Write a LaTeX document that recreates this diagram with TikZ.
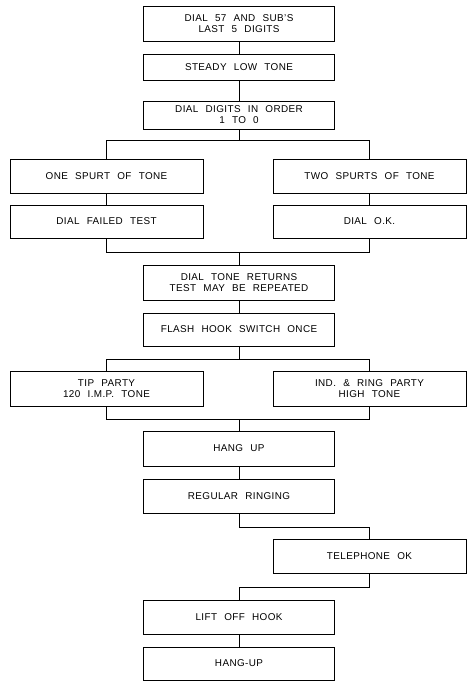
\documentclass[tikz,border=0pt]{standalone}
\usepackage{fontspec}
\setmainfont{Liberation Sans}[LetterSpace=4,WordSpace=2.3]
\begin{document}
\begin{tikzpicture}[x=1pt,y=-1pt,
  every node/.style={font=\fontsize{9.9}{11}\selectfont},
  box/.style={draw, line width=0.9pt, rectangle, align=center, inner sep=0pt, minimum width=#1},
  box/.default=191,
  conn/.style={line width=0.9pt}]
\useasboundingbox (0,0) rectangle (467,681);
% centre column
\node[box, minimum height=35] (b1) at (239,23.5) {DIAL 57 AND SUB'S\\LAST 5 DIGITS};
\node[box, minimum height=26] (b2) at (239,67) {STEADY LOW TONE};
\node[box, minimum height=28] (b3) at (239,115) {DIAL DIGITS IN ORDER\\1 TO 0};
% branches 1
\node[box=193, minimum height=34] (l1) at (106.5,176) {ONE SPURT OF TONE};
\node[box=193, minimum height=34] (r1) at (369.5,176) {TWO SPURTS OF TONE};
\node[box=193, minimum height=33] (l2) at (106.5,221.5) {DIAL FAILED TEST};
\node[box=193, minimum height=33] (r2) at (369.5,221.5) {DIAL O.K.};
\node[box, minimum height=35] (b4) at (239,282.5) {DIAL TONE RETURNS\\TEST MAY BE REPEATED};
\node[box, minimum height=33] (b5) at (239,329.5) {FLASH HOOK SWITCH ONCE};
% branches 2
\node[box=193, minimum height=35] (l3) at (106.5,388.5) {TIP PARTY\\120 I.M.P. TONE};
\node[box=193, minimum height=35] (r3) at (369.5,388.5) {IND. \& RING PARTY\\HIGH TONE};
\node[box, minimum height=35] (b6) at (239,448.5) {HANG UP};
\node[box, minimum height=34] (b7) at (239,496) {REGULAR RINGING};
\node[box=193, minimum height=34] (r4) at (369.5,556) {TELEPHONE OK};
\node[box, minimum height=34] (b8) at (239,617) {LIFT OFF HOOK};
\node[box, minimum height=33] (b9) at (239,663.5) {HANG-UP};
% junction coordinates
\coordinate (s1) at (239,140);
\coordinate (m1) at (239,252);
\coordinate (s2) at (239,359);
\coordinate (m2) at (239,419);
\coordinate (t1) at (239,527);
\coordinate (t2) at (239,587);
% connectors
\draw[conn] (b1.south) -- (b2.north);
\draw[conn] (b2.south) -- (b3.north);
\draw[conn] (b3.south) -- (s1);
\draw[conn] (l1.north) -- (l1.north |- s1) -- (r1.north |- s1) -- (r1.north);
\draw[conn] (l1.south) -- (l2.north);
\draw[conn] (r1.south) -- (r2.north);
\draw[conn] (l2.south) -- (l2.south |- m1) -- (r2.south |- m1) -- (r2.south);
\draw[conn] (m1) -- (b4.north);
\draw[conn] (b4.south) -- (b5.north);
\draw[conn] (b5.south) -- (s2);
\draw[conn] (l3.north) -- (l3.north |- s2) -- (r3.north |- s2) -- (r3.north);
\draw[conn] (l3.south) -- (l3.south |- m2) -- (r3.south |- m2) -- (r3.south);
\draw[conn] (m2) -- (b6.north);
\draw[conn] (b6.south) -- (b7.north);
\draw[conn] (b7.south) -- (t1) -| (r4.north);
\draw[conn] (r4.south) |- (t2) -- (b8.north);
\draw[conn] (b8.south) -- (b9.north);
\end{tikzpicture}
\end{document}
